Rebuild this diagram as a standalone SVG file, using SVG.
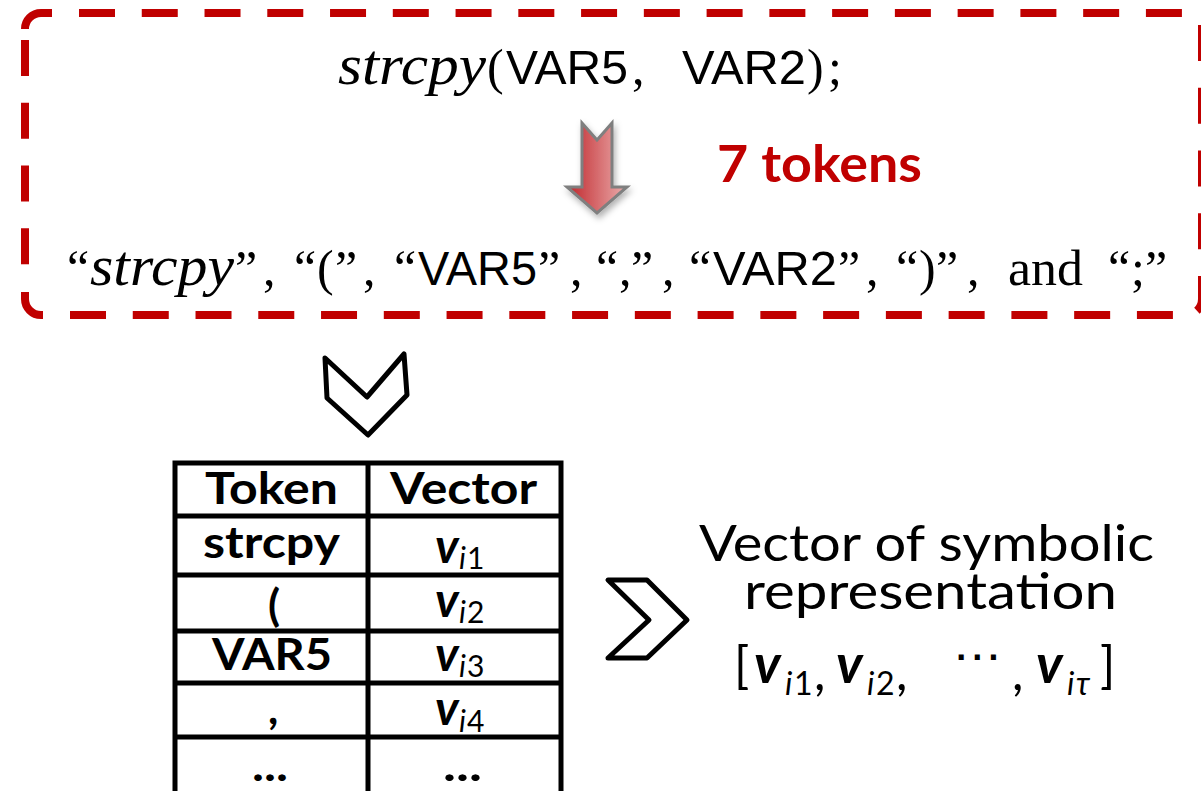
<svg xmlns="http://www.w3.org/2000/svg" width="1201" height="791" viewBox="0 0 1201 791">
<defs>
<style>
.dash{fill:none;stroke:#C00000;stroke-width:8;stroke-dasharray:36 26.76}
.solid{fill:none;stroke:#C00000;stroke-width:8}
.ser{font-family:"Liberation Serif",serif;font-size:50px;fill:#000}
.it{font-family:"Liberation Serif",serif;font-style:italic;font-size:56px;fill:#000}
.sans{font-family:"Liberation Sans",Arial,sans-serif;font-size:48px;fill:#000}
.red{font-family:Lato,"Open Sans",sans-serif;font-weight:700;font-size:52px;fill:#C00000}
.tb{font-family:Lato,"Open Sans",sans-serif;font-weight:700;font-size:44px;fill:#000}
.vb{font-family:Lato,"Open Sans",sans-serif;font-weight:700;font-style:italic;font-size:48px;fill:#000}
.vf{font-family:Lato,"Open Sans",sans-serif;font-weight:700;font-style:italic;font-size:54px;fill:#000}
.si{font-family:Lato,"DejaVu Sans",sans-serif;font-style:italic;font-size:30px;fill:#000}
.sd{font-family:Lato,"DejaVu Sans",sans-serif;font-size:30px;fill:#000}
.fi{font-family:Lato,"DejaVu Sans",sans-serif;font-style:italic;font-size:32px;fill:#000}
.fd{font-family:Lato,"DejaVu Sans",sans-serif;font-size:32px;fill:#000}
.rt{font-family:Lato,"Open Sans",sans-serif;font-size:50px;fill:#000}
.line{stroke:#000;stroke-width:5;fill:none}
.chev{fill:none;stroke:#000;stroke-width:5;stroke-linejoin:round}
</style>
<linearGradient id="rg" x1="0" x2="1" y1="0" y2="0">
<stop offset="0" stop-color="#C0262B"/>
<stop offset="1" stop-color="#EBAEAE"/>
</linearGradient>
<filter id="sh" x="-40%" y="-30%" width="180%" height="160%">
<feDropShadow dx="2" dy="4" stdDeviation="3" flood-color="#000" flood-opacity="0.3"/>
</filter>
</defs>
<rect width="1201" height="791" fill="#fff"/>

<g id="token-box">
<line class="dash" x1="79" y1="13" x2="1200" y2="13"/>
<path class="solid" d="M25,29 A16,16 0 0 1 41,13 L52,13"/>
<line class="dash" x1="25" y1="40" x2="25" y2="266"/>
<path class="solid" d="M25,292 L25,299 A16,16 0 0 0 41,315 L43,315"/>
<line class="dash" x1="70" y1="315" x2="1185" y2="315"/>
<path class="dash" d="M1202,25 L1202,299 A16,16 0 0 1 1186,315"/>
</g>

<g id="statement">
<text class="it" x="338" y="84" textLength="148" lengthAdjust="spacingAndGlyphs">strcpy</text>
<text class="ser" x="487" y="84">(</text>
<text class="sans" x="506" y="84" textLength="122" lengthAdjust="spacingAndGlyphs">VAR5</text>
<text class="ser" x="632" y="84">,</text>
<text class="sans" x="682" y="84" textLength="124" lengthAdjust="spacingAndGlyphs">VAR2</text>
<text class="ser" x="807" y="84">)</text>
<text class="ser" x="828" y="84">;</text>
</g>

<g id="token-count">
<text class="red" x="717" y="182" textLength="205" lengthAdjust="spacingAndGlyphs">7 tokens</text>
</g>

<g id="token-list">
<text class="ser" x="67" y="285">“</text>
<text class="it" x="90" y="285" textLength="144" lengthAdjust="spacingAndGlyphs">strcpy</text>
<text class="ser" x="235" y="285">”</text>
<text class="ser" x="263" y="285">,</text>
<text class="ser" x="294" y="285">“</text>
<text class="ser" x="317" y="285">(</text>
<text class="ser" x="335" y="285">”</text>
<text class="ser" x="363" y="285">,</text>
<text class="ser" x="394" y="285">“</text>
<text class="sans" x="418" y="285" textLength="119" lengthAdjust="spacingAndGlyphs">VAR5</text>
<text class="ser" x="538" y="285">”</text>
<text class="ser" x="570" y="285">,</text>
<text class="ser" x="596" y="285">“</text>
<text class="ser" x="619" y="285">,</text>
<text class="ser" x="631" y="285">”</text>
<text class="ser" x="662" y="285">,</text>
<text class="ser" x="689" y="285">“</text>
<text class="sans" x="713" y="285" textLength="124" lengthAdjust="spacingAndGlyphs">VAR2</text>
<text class="ser" x="838" y="285">”</text>
<text class="ser" x="866" y="285">,</text>
<text class="ser" x="896" y="285">“</text>
<text class="ser" x="919" y="285">)</text>
<text class="ser" x="936" y="285">”</text>
<text class="ser" x="967" y="285">,</text>
<text class="ser" x="1008" y="285" textLength="75" lengthAdjust="spacingAndGlyphs">and</text>
<text class="ser" x="1108" y="285">“</text>
<text class="ser" x="1131" y="285">;</text>
<text class="ser" x="1145" y="285">”</text>
</g>

<g id="connectors">
<polygon points="582,123 597,140 612,123 612,187 627,187 597,213 567,187 582,187" fill="url(#rg)" stroke="#7F7F7F" stroke-width="3" stroke-linejoin="miter" filter="url(#sh)"/>
<polygon class="chev" points="325,358 367,397 404,354 407,395 368,435 327,398"/>
<polygon class="chev" points="608,580 647,580 687,620 647,658 608,658 649,620"/>
</g>

<g id="embedding-table">
<rect class="line" x="175" y="463" width="386" height="400"/>
<line class="line" x1="368" y1="463" x2="368" y2="800"/>
<line class="line" x1="175" y1="516" x2="561" y2="516"/>
<line class="line" x1="175" y1="575" x2="561" y2="575"/>
<line class="line" x1="175" y1="631" x2="561" y2="631"/>
<line class="line" x1="175" y1="683" x2="561" y2="683"/>
<line class="line" x1="175" y1="737" x2="561" y2="737"/>
<text class="tb" x="205" y="504" textLength="133" lengthAdjust="spacingAndGlyphs">Token</text>
<text class="tb" x="390" y="504" textLength="147" lengthAdjust="spacingAndGlyphs">Vector</text>
<text class="tb" x="203" y="558" textLength="137" lengthAdjust="spacingAndGlyphs">strcpy</text>
<text class="tb" x="268" y="621" font-size="50">(</text>
<text class="tb" x="212" y="670" textLength="120" lengthAdjust="spacingAndGlyphs" font-size="46">VAR5</text>
<text class="tb" x="268" y="724" font-size="56">,</text>
<text class="tb" x="252" y="781" textLength="36" lengthAdjust="spacingAndGlyphs">...</text>
<text class="tb" x="443" y="781" textLength="39" lengthAdjust="spacingAndGlyphs">...</text>
<text class="vb" x="435" y="563">v</text><text class="si" x="459" y="569">i</text><text class="sd" x="467" y="569">1</text>
<text class="vb" x="435" y="617">v</text><text class="si" x="459" y="623">i</text><text class="sd" x="467" y="623">2</text>
<text class="vb" x="435" y="671">v</text><text class="si" x="459" y="677">i</text><text class="sd" x="467" y="677">3</text>
<text class="vb" x="435" y="725">v</text><text class="si" x="459" y="732">i</text><text class="sd" x="467" y="732">4</text>
</g>

<g id="symbolic-vector">
<text class="rt" x="699" y="561" textLength="455" lengthAdjust="spacingAndGlyphs">Vector of symbolic</text>
<text class="rt" x="744" y="609" textLength="373" lengthAdjust="spacingAndGlyphs">representation</text>
<text class="rt" x="734" y="683" font-size="60">[</text>
<text class="vf" x="754" y="683">v</text><text class="fi" x="785" y="695">i</text><text class="fd" x="794" y="695">1</text>
<text class="rt" x="814" y="690" font-size="44">,</text>
<text class="vf" x="836" y="683">v</text><text class="fi" x="867" y="695">i</text><text class="fd" x="876" y="695">2</text>
<text class="rt" x="896" y="690" font-size="44">,</text>
<text x="953" y="671" font-family="DejaVu Sans,sans-serif" font-size="44" textLength="49" lengthAdjust="spacingAndGlyphs">⋯</text>
<text class="rt" x="1012" y="690" font-size="44">,</text>
<text class="vf" x="1036" y="683">v</text><text class="fi" x="1067" y="695">i</text><text class="fi" x="1076" y="695">τ</text>
<text class="rt" x="1100" y="683" font-size="60">]</text>
</g>
</svg>
